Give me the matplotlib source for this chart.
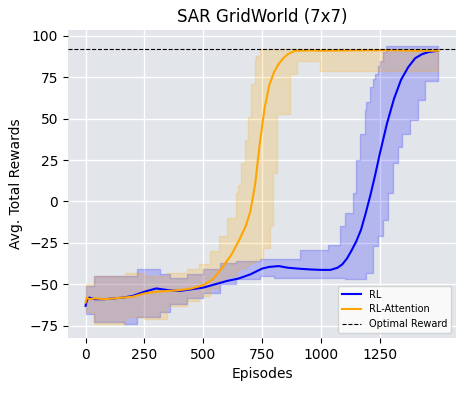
import matplotlib
matplotlib.use("Agg")
from matplotlib import pyplot as plt

# mean curves
rl_ep = [0, 5, 15, 40, 80, 120, 160, 200, 250, 300, 350, 400, 450, 500, 550, 600, 650, 700,
         750, 780, 820, 860, 900, 950, 1000, 1040, 1070, 1090, 1110, 1130, 1150, 1170, 1190,
         1210, 1230, 1250, 1280, 1310, 1340, 1370, 1400, 1430, 1460, 1497]
rl_mean = [-63, -60, -58, -59, -59, -58.5, -58, -57, -54.5, -52.5, -53.5, -54, -53, -52, -50,
           -48, -46.5, -44, -40.5, -39.5, -39, -40, -40.5, -41, -41.3, -41.3, -40, -38, -34.5,
           -29.5, -24, -17, -7, 4, 16, 29, 47, 62, 73.5, 81, 86.5, 89, 90.3, 91]

att_ep = [0, 5, 15, 40, 80, 120, 160, 200, 250, 300, 350, 400, 450, 500, 540, 580, 620, 650,
          680, 700, 720, 740, 760, 780, 800, 820, 840, 860, 890, 950, 1000, 1100, 1200, 1300,
          1400, 1497]
att_mean = [-61, -58, -59, -58.5, -59, -58.5, -58, -57.5, -55.5, -54.5, -54, -53.5, -52.5,
            -50.5, -47, -40, -32, -24, -15, -6, 10, 35, 56, 70, 78, 83, 86.5, 89, 91, 91.2,
            91, 91.2, 91.3, 91.3, 91, 91]

# spread (stepped)
rl_band_ep = [0, 38, 165, 220, 315, 360, 430, 500, 570, 640, 740, 800, 910, 1030, 1080, 1100,
              1136, 1150, 1165, 1185, 1193, 1208, 1221, 1229, 1243, 1250, 1264, 1278, 1285,
              1306, 1325, 1342, 1378, 1412, 1441, 1497]
rl_upper = [-51, -45, -45, -41, -44, -46, -44, -41, -37, -36, -35, -35, -29, -26, -15, -7, 5,
            25, 41, 55, 60, 69, 74, 77, 82, 85, 90, 94, 94, 94, 94, 94, 94, 94, 94, 94]
rl_lower = [-68, -73, -74, -70, -67, -62, -58, -55, -50, -47, -45, -46, -46, -46, -46, -47,
            -47, -47, -47, -47, -43, -43, -27, -27, -21, -21, -11, -11, 5, 23, 33, 41, 49, 61,
            73, 73]

att_band_ep = [0, 38, 166, 250, 345, 430, 480, 527, 567, 600, 638, 647, 662, 676, 690, 704,
               718, 726, 740, 754, 782, 796, 811, 867, 896, 995, 1497]
att_upper = [-50, -45, -43, -45, -43, -41, -38, -30, -21, -10, 5, 10, 23, 37, 51, 71, 86, 88,
             92, 92, 92, 92, 92, 92, 92, 92, 92]
att_lower = [-67, -74, -70, -71, -63, -60, -57, -52, -48, -45, -42, -41, -40, -39, -38, -37,
             -36, -35, -35, -28, -15, 17, 53, 77, 85, 79, 79]

optimal = 92

fig = plt.figure(figsize=(4.65, 3.93), dpi=100)
ax = fig.add_axes([0.146, 0.140, 0.835, 0.784])
ax.set_facecolor("#e2e5e9")
for s in ax.spines.values():
    s.set_visible(False)
ax.grid(True, color="white", linewidth=1)
ax.set_axisbelow(True)

ax.fill_between(rl_band_ep, rl_lower, rl_upper, step="post", color="blue", alpha=0.2)
ax.fill_between(att_band_ep, att_lower, att_upper, step="post", color="orange", alpha=0.2)
ax.plot(rl_ep, rl_mean, color="blue", linewidth=1.5, label="RL")
ax.plot(att_ep, att_mean, color="orange", linewidth=1.5, label="RL-Attention")
ax.axhline(optimal, color="black", linestyle="--", linewidth=0.8, label="Optimal Reward")

ax.set_xlim(-75, 1574)
ax.set_ylim(-82.4, 103.6)
ax.set_xticks([0, 250, 500, 750, 1000, 1250])
ax.set_yticks([-75, -50, -25, 0, 25, 50, 75, 100])
ax.set_title("SAR GridWorld (7x7)", fontsize=12)
ax.set_xlabel("Episodes")
ax.set_ylabel("Avg. Total Rewards")
ax.legend(loc="lower right", fontsize=7)

fig.savefig("out.png", dpi=100)
